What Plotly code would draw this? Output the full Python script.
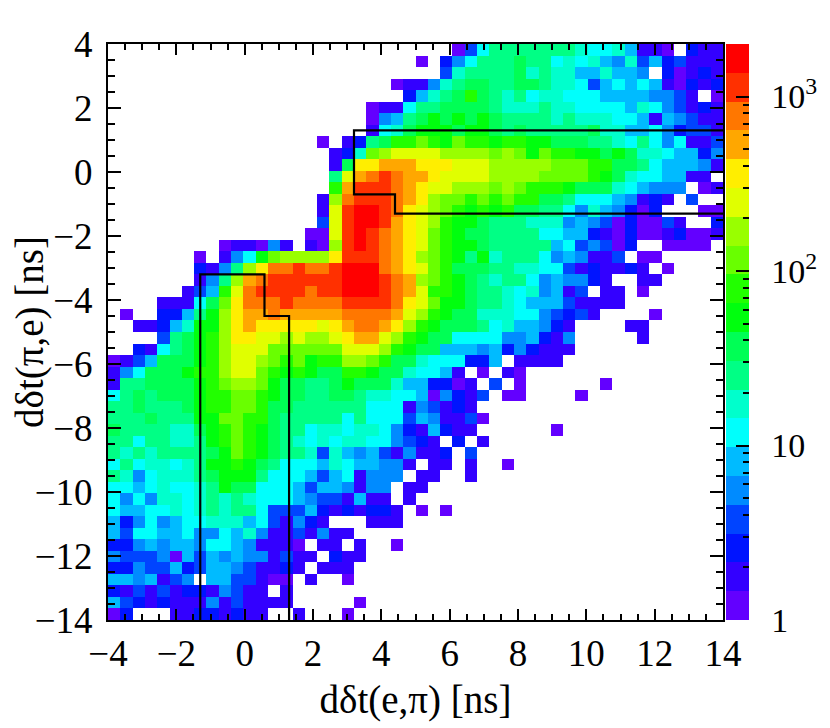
import colorsys
import numpy as np
import plotly.graph_objects as go

# 50 x 50 bins, 0.36 ns wide
x_edges = np.linspace(-4, 14, 51)
y_edges = np.linspace(-14, 4, 51)
z_max_count = 2000
n_levels = 20

# colour level of every bin, top row (y=4) first.
# '.' = empty bin, 0-9 then a-j = levels 10-19.  blocks: cols 0-16 | 17-32 | 33-49
level_rows = [
    "|...........03688|8888876675110.211",
    "|........0.246888|98867675473523111",
    "|..........378888|97877557554.20121",
    "|......0114789988|99877635656510212",
    "|.......25789b987|867766655554431.0",
    "|....011688999987|77877666657643121",
    "|....04589a9a9a98|88878777665154311",
    "|....1679aaa9aa98|98888897755642331",
    "|0.1289bbcbacbbab|baa99988768646113",
    "|.127cdeeeeddddcd|cacbbaa9a97765524",
    "|.19ffgggfffeeedd|dddcccbb998655541",
    "|.8eghihggfeeeedd|ddccccba97665511.",
    "|.bgiiihgfeedddcd|cbbba999765444.01",
    "|1dhiiihgfdccbcbc|bb99866654121.3..",
    "|1eijjihfedcbabab|998864754202...00",
    "|3eijjigfedbaa988|87774543020031..2",
    "................0|0eijihgfecba9988|88665521020012001",
    ".........011041.1|0dijihgfecbaa988|8885634302..0000.",
    ".......0.146acddd|dfiiihgfdcba8a78|886454113.00.....",
    ".......2148dfhhih|hijjjhgfecb99988|77663121121.0....",
    ".......148dghiiii|iijjjihgdcba9878|86454421..11.....",
    "......135behiiiih|iijjjihgebba9887|674513.11.0......",
    "....11169cfhhhihh|hhiiiihfecaa9887|655531111........",
    ".0..2258adfgghggg|gghhhhgedba99777|6643231....0.....",
    "..11257aadfgfffff|efghhgfdba999867|55421....11......",
    "....389abdffeeded|defggedba9966664|45214.....1......",
    "..21689abdeeecccc|cceeedba99555452|42111............",
    "0135999abdeedcbca|bbddcb997666225.|1111.............",
    "146999abbdeecbaba|99bba9976651.0.1|0................",
    "1889999abcddca998|89a9997552201.3.|0......0.........",
    "6898999abbccba998|89987766504213.0|0....0...........",
    "8898889abbccb9988|8888666143121...|",
    "8889888aaccbb9888|88686663541130..|",
    "98888779abcba9886|7767764215211...|...0.............",
    "88688778abcba9876|7677664321.2.1..|",
    "878788889acba9887|37545314112.3...|",
    "68677678aaba98666|57655441.11.1..0|",
    "874677789aaa86665|3561444.11..1...|",
    "665676678a9966653|554144.11.......|",
    "64647767878766654|331511.1........|",
    "65566767878863335|2121221.0.0.....|",
    "52464566777563142|1...111.........|",
    "53665564465741131|411.............|",
    "2245455466541110.|11.1..0.........|",
    "43334053545441311|.211............|",
    "2243352355431121.|111.............|",
    "5545134.5533100.1|..0.............|",
    "2131312214311.1..||",
    "532121114131111..|...0............|",
    "02...11221211..1.|..0.............|",
]

# graphical cuts
cut_left_x = [-1.3, -1.3, 0.58, 0.58, 1.3, 1.3]
cut_left_y = [-14, -3.2, -3.2, -4.5, -4.5, -14]
cut_right_x = [14, 3.2, 3.2, 4.4, 4.4, 14]
cut_right_y = [1.3, 1.3, -0.7, -0.7, -1.3, -1.3]

cbar_major = [0, 1, 2, 3]
cbar_labels = ["1", "10", "10<sup>2</sup>", "10<sup>3</sup>"]

FONT = "Liberation Serif"
zmax = np.log10(z_max_count)
digits = "0123456789abcdefghij"
widths = (17, 16, 17)

grid = []
for row in level_rows:
    parts = row.split("|")
    cells = ""
    for p, w in zip(parts, widths):
        if p == "":
            p = "." * w
        assert len(p) == w, (row, p)
        cells += p
    grid.append([np.nan if ch == "." else (digits.index(ch) + 0.5) * zmax / n_levels for ch in cells])
z = np.array(grid[::-1])

xc = 0.5 * (x_edges[1:] + x_edges[:-1])
yc = 0.5 * (y_edges[1:] + y_edges[:-1])


def root_color(c):
    # ROOT "pretty" palette (50 hues, violet -> red), 20 contours
    p = int((c + 0.99) * 50 / n_levels)
    hue = 280 - (p + 1) * 280 / 50
    r, g, b = colorsys.hls_to_rgb(hue / 360, 0.5, 1.0)
    return "rgb(%d,%d,%d)" % (round(r * 255), round(g * 255), round(b * 255))


cscale = []
for c in range(n_levels):
    cscale.append([c / n_levels, root_color(c)])
    cscale.append([(c + 1) / n_levels, root_color(c)])
clear = [[0, "rgba(0,0,0,0)"], [1, "rgba(0,0,0,0)"]]

cbar_minor = [np.log10(m * 10 ** n) for n in range(4) for m in range(2, 10) if m * 10 ** n < z_max_count]

cb_base = dict(x=1.0055, xanchor="left", y=0.5, yanchor="middle", len=1, thickness=23,
               xpad=0, ypad=0, outlinewidth=0, tickmode="array", tickcolor="black", tickwidth=1.5)

fig = go.Figure()
fig.add_trace(go.Heatmap(x=xc, y=yc, z=z, zmin=0, zmax=zmax, colorscale=cscale, hoverinfo="skip",
                         colorbar=dict(cb_base, tickvals=cbar_minor, ticks="inside", ticklen=6,
                                       showticklabels=False)))
fig.add_trace(go.Heatmap(x=xc, y=yc, z=z, zmin=0, zmax=zmax, colorscale=clear, hoverinfo="skip",
                         colorbar=dict(cb_base, tickvals=cbar_major, ticks="inside", ticklen=13,
                                       showticklabels=False)))
fig.add_trace(go.Heatmap(x=xc, y=yc, z=z, zmin=0, zmax=zmax, colorscale=clear, hoverinfo="skip",
                         colorbar=dict(cb_base, tickvals=cbar_major, ticktext=cbar_labels, ticks="outside",
                                       ticklen=16, tickcolor="rgba(0,0,0,0)",
                                       tickfont=dict(family=FONT, size=34, color="black"))))

for cx, cy in [(cut_left_x, cut_left_y), (cut_right_x, cut_right_y)]:
    fig.add_trace(go.Scatter(x=cx, y=cy, mode="lines", line=dict(color="black", width=2.2),
                             hoverinfo="skip", showlegend=False))

axis_common = dict(dtick=2, ticks="inside", tickcolor="black", tickwidth=1.5, automargin=False,
                   showline=True, linewidth=2, linecolor="black", mirror="ticks",
                   showgrid=False, zeroline=False, tickfont=dict(family=FONT, size=37, color="black"))

fig.update_xaxes(axis_common, range=[-4, 14], tick0=-4, ticklen=11,
                 minor=dict(dtick=0.5, ticks="inside", ticklen=6, tickwidth=1.5, tickcolor="black"),
                 title=dict(text="dδt(e,π) [ns]", font=dict(family=FONT, size=39, color="black"), standoff=12))
fig.update_yaxes(axis_common, range=[-14, 4], tick0=-14, ticklen=13, ticklabelstandoff=6,
                 minor=dict(dtick=0.5, ticks="inside", ticklen=7, tickwidth=1.5, tickcolor="black"),
                 title=dict(text="dδt(π,e) [ns]", font=dict(family=FONT, size=39, color="black"), standoff=4))

# page body adds an 8 px offset, so the figure is 8 px smaller and margins shifted
fig.update_layout(width=822, height=720,
                  margin=dict(l=100, r=107, t=36, b=108, autoexpand=False),
                  paper_bgcolor="white", plot_bgcolor="white", showlegend=False,
                  font=dict(family=FONT, color="black"))

fig.write_html("out.html")
